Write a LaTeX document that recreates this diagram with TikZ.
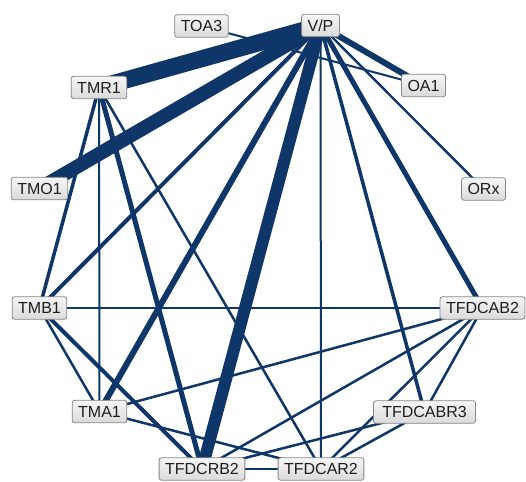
\documentclass[tikz,border=0pt]{standalone}
\usepackage{fontspec}
\setmainfont{Liberation Sans}
\definecolor{edgecol}{RGB}{14,54,104}
\definecolor{boxline}{RGB}{135,135,135}
\definecolor{boxtop}{RGB}{246,246,246}
\definecolor{boxbot}{RGB}{218,218,218}
\definecolor{txt}{RGB}{30,30,30}
\pgfdeclarelayer{background}
\pgfsetlayers{background,main}
\begin{document}
\begin{tikzpicture}[x=1pt,y=-1pt,
  nd/.style={draw=boxline, line width=0.8pt, rounded corners=2.5pt,
    top color=boxtop, bottom color=boxbot, text=txt,
    font=\fontsize{16}{16}\selectfont, text height=11.5pt, text depth=0pt,
    inner ysep=5.5pt, inner xsep=6pt},
  ed/.style={draw=edgecol, line width=#1},
  ed/.default=2.2pt]
\useasboundingbox (0,0) rectangle (526,481);

\node[nd] (TOA3) at (201.5,26) {TOA3};
\node[nd] (VP) at (320.5,25.5) {V/P};
\node[nd] (TMR1) at (99,87.5) {TMR1};
\node[nd] (OA1) at (423.5,85.5) {OA1};
\node[nd] (TMO1) at (39.5,188.5) {TMO1};
\node[nd] (ORx) at (483.5,189) {ORx};
\node[nd] (TMB1) at (39.5,308) {TMB1};
\node[nd] (TFDCAB2) at (482.5,308) {TFDCAB2};
\node[nd] (TMA1) at (99.5,411.5) {TMA1};
\node[nd, minimum width=102pt] (TFDCABR3) at (424.5,412) {TFDCABR3};
\node[nd] (TFDCRB2) at (202,469) {TFDCRB2};
\node[nd] (TFDCAR2) at (321,469) {TFDCAR2};

\begin{pgfonlayer}{background}
\fill[white] (0,0) rectangle (526,481);
% from V/P
\draw[ed=17pt] (VP.center) -- (TMR1.center);
\draw[ed=14pt] (VP.center) -- (TMO1.center);
\draw[ed=12pt] (VP.center) -- (TFDCRB2.center);
\draw[ed=6pt] (VP.center) -- (TMA1.center);
\draw[ed=6pt] (VP.center) -- (OA1.center);
\draw[ed=5pt] (VP.center) -- (TFDCAB2.center);
\draw[ed=4pt] (VP.center) -- (TMB1.center);
\draw[ed=3.5pt] (VP.center) -- (TFDCABR3.center);
\draw[ed=2pt] (VP.center) -- (TFDCAR2.center);
\draw[ed=2.4pt] (VP.center) -- (ORx.center);
% others
\draw[ed=2pt] (TOA3.center) -- (OA1.center);
\draw[ed=5pt] (TMR1.center) -- (TFDCRB2.center);
\draw[ed=3.5pt] (TMR1.center) -- (TMB1.center);
\draw[ed=2pt] (TMR1.center) -- (TMA1.center);
\draw[ed=2.5pt] (TMR1.center) -- (TFDCAR2.center);
\draw[ed=4pt] (TMB1.center) -- (TFDCRB2.center);
\draw[ed=2.5pt] (TMB1.center) -- (TMA1.center);
\draw[ed=2pt] (TMB1.center) -- (TFDCAB2.center);
\draw[ed=2.5pt] (TMA1.center) -- (TFDCAB2.center);
\draw[ed=2.5pt] (TMA1.center) -- (TFDCAR2.center);
\draw[ed=2.5pt] (TFDCAB2.center) -- (TFDCRB2.center);
\draw[ed=2.5pt] (TFDCAB2.center) -- (TFDCAR2.center);
\draw[ed=2.5pt] (TFDCAB2.center) -- (TFDCABR3.center);
\draw[ed=2.5pt] (TFDCABR3.center) -- (TFDCRB2.center);
\draw[ed=2.5pt] (TFDCABR3.center) -- (TFDCAR2.center);
\draw[ed=2pt] (TFDCRB2.center) -- (TFDCAR2.center);
\end{pgfonlayer}
\end{tikzpicture}
\end{document}
